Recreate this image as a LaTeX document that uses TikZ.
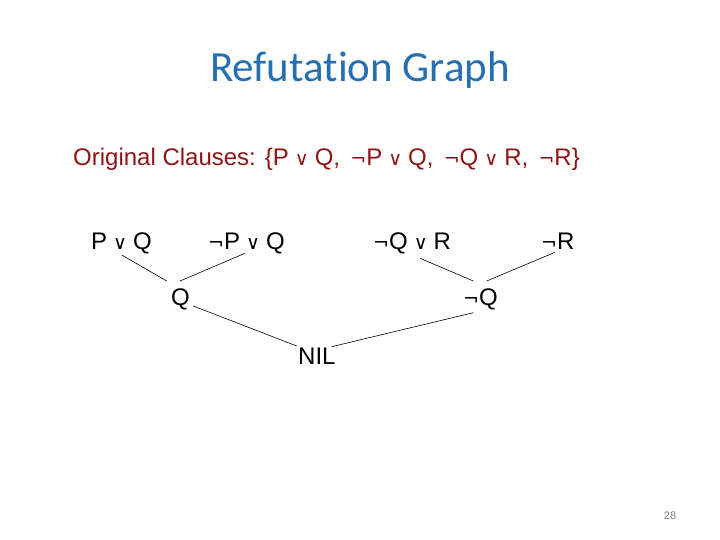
\documentclass[tikz,border=0pt]{standalone}
\usepackage{fontspec}
\setmainfont{Liberation Sans}
\newfontfamily\titlefnt[Ligatures=NoCommon]{Carlito}
\newfontfamily\dvsym{DejaVu Sans}
\definecolor{titleblue}{RGB}{38,111,179}
\definecolor{clausered}{RGB}{140,22,22}
\newcommand\myor{\hspace{0.25em}{\dvsym\fontsize{19}{19}\selectfont ∨}\hspace{0.25em}}
\newcommand\mynot{{\dvsym\fontsize{19}{19}\selectfont ¬}}
\newcommand\cnot{\hspace{0.15em}\mynot}
\begin{document}
\begin{tikzpicture}[x=1pt,y=-1pt,
  lbl/.style={anchor=base west, inner sep=0pt, font=\fontsize{24}{24}\selectfont},
  edge/.style={line width=0.6pt}]
\useasboundingbox[fill=white] (0,0) rectangle (720,540);
\node[anchor=base, inner sep=0pt, text=titleblue, font=\titlefnt\fontsize{43}{43}\selectfont] (title) at (360,82) {Refutation Graph};
\node[lbl, text=clausered] (orig) at (73,166) {Original Clauses: \{P\myor Q, \cnot P\myor Q, \cnot Q\myor R, \cnot R\}};
\node[lbl] (pq) at (91,249) {P\myor Q};
\node[lbl] (npq) at (208,249) {\mynot P\myor Q};
\node[lbl] (nqr) at (373,249) {\mynot Q\myor R};
\node[lbl] (nr) at (541,249) {\mynot R};
\node[lbl] (q) at (171,305) {Q};
\node[lbl] (nq) at (463,305) {\mynot Q};
\node[lbl] (nil) at (298,364) {NIL};
\node[anchor=base, inner sep=0pt, text=gray, font=\fontsize{11}{11}\selectfont] (page) at (670,519) {28};
\coordinate (pqb) at (121.7,255);
\coordinate (npqb) at (245,253.3);
\coordinate (nqrb) at (420,258.3);
\coordinate (nrb) at (555,252.3);
\coordinate (qtl) at (166.7,281);
\coordinate (qtr) at (180,281);
\coordinate (nqtl) at (473.3,281);
\coordinate (nqtr) at (486.7,281);
\coordinate (qb) at (193.3,306);
\coordinate (nqb) at (473.3,312.7);
\coordinate (nill) at (296.7,346);
\coordinate (nilr) at (331.7,346.7);
\draw[edge] (pqb) -- (qtl);
\draw[edge] (npqb) -- (qtr);
\draw[edge] (nqrb) -- (nqtl);
\draw[edge] (nrb) -- (nqtr);
\draw[edge] (qb) -- (nill);
\draw[edge] (nilr) -- (nqb);
\end{tikzpicture}
\end{document}
